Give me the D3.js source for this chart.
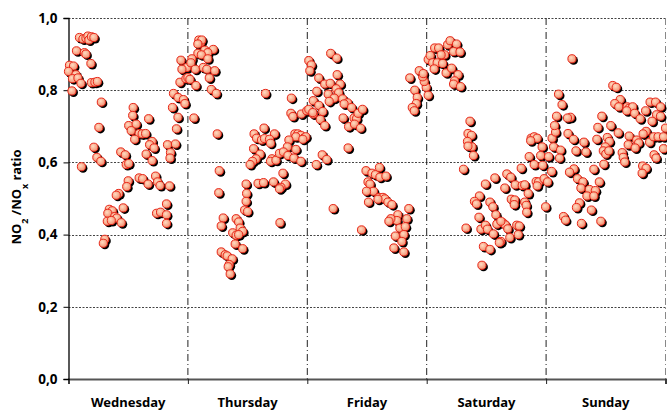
<!DOCTYPE html>
<html>
<head>
<meta charset="utf-8">
<script src="https://cdn.jsdelivr.net/npm/d3@7"></script>
<style>
  body { margin: 0; background: #fff; }
  svg text { font-family: "Noto Sans", sans-serif; font-weight: bold; fill: #000; }
</style>
</head>
<body>
<div id="chart"></div>
<script>
// day names under the x axis
var days = ['Wednesday', 'Thursday', 'Friday', 'Saturday', 'Sunday'];
var yTicks = [0, 0.2, 0.4, 0.6, 0.8, 1.0];

// [hour of the day, NO2/NOx ratio]
var wednesday = [
  [2.2,0.946],[2.9,0.942],[3.5,0.944],[3.9,0.950],[4.1,0.939],[4.6,0.948],[5.1,0.946],
  [1.6,0.909],[3.2,0.904],[3.5,0.900],[4.5,0.874],[0.2,0.869],[1.0,0.867],[0.0,0.852],[1.5,0.843],
  [0.8,0.832],[1.9,0.834],[2.5,0.819],[4.6,0.821],[5.3,0.822],[5.8,0.824],[0.7,0.798],
  [6.6,0.767],[13.0,0.752],[12.9,0.730],[16.1,0.721],[6.1,0.697],[12.1,0.702],[13.6,0.706],[12.6,0.688],
  [14.2,0.680],[14.8,0.679],[15.5,0.680],[13.3,0.664],[16.8,0.658],[16.3,0.649],[17.2,0.640],
  [5.1,0.642],[5.7,0.614],[6.5,0.603],[10.5,0.629],[11.4,0.621],[15.6,0.623],[11.6,0.594],[12.1,0.597],
  [16.8,0.605],[2.6,0.588],[14.2,0.557],[14.9,0.555],[16.0,0.540],[17.5,0.562],[17.9,0.546],[18.4,0.536],
  [12.0,0.549],[11.7,0.533],[10.1,0.514],[9.6,0.509],[11.0,0.474],[8.2,0.470],[8.8,0.466],[7.9,0.459],
  [9.3,0.450],[9.7,0.446],[7.8,0.437],[8.6,0.439],[10.6,0.433],[17.7,0.459],[18.5,0.462],[7.3,0.387],[7.0,0.376],
  [19.9,0.649],[21.5,0.651],[20.5,0.627],[20.4,0.612],[20.3,0.535],[19.7,0.485],[19.7,0.455],[19.7,0.431],
  [21.1,0.791],[22.0,0.780],[23.1,0.774],[23.4,0.763],[20.9,0.752],[22.0,0.725],[21.7,0.693],[22.6,0.883],
  [22.4,0.822],[23.8,0.863],[22.8,0.858],[23.6,0.832]
];

var thursday = [
  [2.2,0.939],[2.6,0.933],[2.8,0.939],[2.0,0.928],[3.4,0.911],[5.1,0.913],[4.0,0.904],[2.0,0.902],[2.7,0.898],
  [0.8,0.887],[0.6,0.876],[4.0,0.887],[1.5,0.858],[3.1,0.863],[3.8,0.858],[5.4,0.854],[4.3,0.834],[0.0,0.835],
  [0.4,0.830],[1.6,0.813],[4.7,0.802],[5.7,0.791],[1.2,0.723],[5.9,0.679],[6.3,0.577],[6.2,0.516],[7.1,0.446],
  [6.7,0.424],[9.7,0.444],[10.2,0.435],[10.5,0.418],[11.0,0.409],[9.0,0.405],[9.7,0.398],[10.2,0.400],[9.5,0.374],
  [11.0,0.361],[6.7,0.352],[7.5,0.344],[7.9,0.341],[8.9,0.333],[8.3,0.317],[8.1,0.311],[8.5,0.291],[11.7,0.540],
  [11.8,0.514],[11.4,0.468],[12.0,0.464],[11.7,0.492],[13.3,0.679],[13.8,0.667],[14.8,0.662],[15.3,0.695],
  [15.6,0.791],[13.2,0.638],[14.5,0.623],[13.7,0.610],[13.0,0.603],[12.5,0.594],[14.1,0.542],[15.2,0.544],[15.4,0.666],
  [20.8,0.778],[20.7,0.736],[21.1,0.727],[22.8,0.734],[23.9,0.743],[17.4,0.679],[16.4,0.664],[16.6,0.653],
  [21.5,0.679],[22.1,0.679],[22.7,0.675],[21.7,0.671],[23.3,0.667],[23.7,0.671],[23.1,0.664],[20.3,0.662],
  [20.0,0.643],[21.7,0.636],[16.9,0.610],[16.6,0.603],[17.7,0.606],[18.4,0.625],[19.2,0.629],[20.1,0.619],
  [21.3,0.612],[22.7,0.603],[19.1,0.570],[17.2,0.546],[19.6,0.540],[18.7,0.531],[18.4,0.527],[18.5,0.433]
];

var friday = [
  [0.3,0.747],[1.2,0.734],[1.8,0.594],[3.0,0.621],[3.9,0.608],[5.2,0.472],[8.2,0.640],[10.9,0.413],
  [4.7,0.902],[5.9,0.889],[0.3,0.882],[0.8,0.870],[0.5,0.854],[6.0,0.843],[2.3,0.834],[3.5,0.817],[4.6,0.819],
  [6.6,0.817],[5.8,0.804],[1.9,0.797],[4.2,0.789],[6.3,0.793],[5.4,0.778],[4.4,0.769],[7.1,0.776],[8.1,0.765],
  [7.4,0.762],[8.9,0.752],[1.2,0.771],[2.3,0.758],[3.1,0.741],[2.6,0.719],[3.5,0.702],[1.1,0.738],[7.2,0.723],
  [8.3,0.699],[9.4,0.723],[9.9,0.721],[10.2,0.736],[11.1,0.747],[9.5,0.706],[10.7,0.695],
  [11.8,0.577],[13.0,0.570],[13.7,0.566],[14.5,0.586],[14.6,0.559],[15.8,0.562],[12.2,0.546],[12.6,0.540],
  [13.3,0.520],[11.9,0.520],[12.3,0.490],[14.4,0.503],[15.2,0.503],[15.6,0.499],[14.2,0.498],[16.2,0.490],
  [17.0,0.483],[20.4,0.472],[18.2,0.455],[18.0,0.439],[16.8,0.444],[16.4,0.437],[20.0,0.444],[18.6,0.418],
  [19.7,0.422],[19.4,0.400],[17.7,0.396],[19.0,0.381],[17.4,0.363],[19.4,0.352],
  [20.6,0.834],[21.6,0.800],[22.1,0.780],[21.9,0.763],[21.1,0.752],[21.5,0.743],[23.9,0.808],[23.5,0.824],
  [23.2,0.837],[22.5,0.854],[23.3,0.846]
];

var saturday = [
  [0.3,0.786],[0.3,0.885],[0.7,0.896],[1.6,0.917],[2.4,0.917],[1.2,0.876],[2.1,0.876],[3.2,0.874],[1.5,0.859],
  [3.6,0.898],[3.9,0.848],[4.2,0.926],[4.7,0.937],[6.0,0.928],[5.4,0.907],[6.7,0.906],[5.0,0.861],[6.3,0.843],
  [5.6,0.826],[5.4,0.817],[6.8,0.810],[2.9,0.898],
  [8.7,0.714],[8.3,0.680],[9.0,0.675],[8.2,0.658],[9.1,0.643],[8.3,0.645],[9.4,0.619],[7.4,0.581],[7.9,0.418],
  [11.8,0.540],[13.7,0.557],[10.6,0.507],[9.6,0.492],[10.0,0.485],[10.5,0.448],[12.7,0.490],[13.3,0.477],
  [10.9,0.415],[11.8,0.426],[12.2,0.415],[11.4,0.367],[12.7,0.359],[11.1,0.315],[13.9,0.455],[14.1,0.429],
  [13.4,0.402],[14.9,0.381],[14.6,0.378],[15.3,0.433],[15.8,0.427],[16.3,0.416],[14.9,0.437],[16.7,0.392],
  [18.4,0.400],[18.1,0.426],[18.6,0.424],[15.7,0.529],[16.1,0.568],[16.9,0.559],[17.8,0.538],[19.2,0.536],
  [19.7,0.538],[20.4,0.514],[17.0,0.498],[17.7,0.496],[17.6,0.483],[19.7,0.490],[20.0,0.481],[20.1,0.462],
  [19.0,0.584],[20.6,0.616],[21.6,0.594],[22.0,0.547],[22.5,0.546],[22.2,0.535],[23.6,0.555],[23.9,0.477],
  [21.0,0.667],[21.6,0.671],[22.2,0.667],[20.9,0.660],[23.2,0.643],[22.9,0.619],[23.3,0.592]
];

var sunday = [
  [0.3,0.546],[0.5,0.616],[1.1,0.575],[1.2,0.667],[1.5,0.643],[1.9,0.684],[1.7,0.702],[2.1,0.728],[2.9,0.634],
  [2.7,0.612],[2.5,0.789],[3.2,0.760],[3.5,0.450],[3.9,0.440],
  [5.2,0.887],[13.4,0.813],[14.1,0.808],[14.9,0.774],[13.8,0.763],[14.6,0.754],[16.3,0.754],[16.7,0.750],
  [17.4,0.754],[16.2,0.743],[17.8,0.736],[18.9,0.721],[20.0,0.743],[20.9,0.767],[22.0,0.767],[23.0,0.754],
  [22.2,0.732],[23.0,0.728],[21.3,0.714],[24.0,0.695],[11.2,0.728],[13.0,0.702],[10.4,0.697],[14.5,0.682],
  [16.7,0.673],[16.5,0.649],[18.2,0.662],[18.6,0.654],[17.9,0.640],[20.1,0.686],[19.5,0.679],[20.8,0.656],
  [21.6,0.671],[22.5,0.671],[23.6,0.671],[23.6,0.638],[21.7,0.621],[22.1,0.612],[4.9,0.725],[4.3,0.723],
  [4.4,0.680],[5.5,0.664],[6.0,0.632],[7.6,0.656],[8.0,0.629],[10.2,0.664],[12.3,0.669],[12.7,0.658],
  [11.9,0.643],[11.5,0.632],[12.0,0.623],[12.6,0.632],[15.3,0.627],[15.5,0.614],[15.8,0.601],[11.6,0.595],
  [9.6,0.581],[5.6,0.582],[4.7,0.573],[6.3,0.555],[7.4,0.546],[10.7,0.546],[7.0,0.529],[8.7,0.525],
  [9.9,0.522],[8.2,0.507],[9.6,0.507],[6.7,0.488],[6.1,0.475],[9.1,0.468],[7.1,0.431],[11.0,0.437],
  [19.4,0.590],[20.1,0.584],[19.3,0.570]
];

var svgWidth = 667;
var svgHeight = 413;
var margin = { top: 18, right: 1.5, bottom: 34, left: 68.5 };
var width = svgWidth - margin.left - margin.right;
var height = svgHeight - margin.top - margin.bottom;

var svg = d3.select('#chart').append('svg')
  .attr('width', svgWidth)
  .attr('height', svgHeight);

// marker fill
var grad = svg.append('defs').append('radialGradient')
  .attr('id', 'ball').attr('cx', '40%').attr('cy', '38%').attr('r', '65%');
grad.append('stop').attr('offset', '0%').attr('stop-color', '#ffdcc2');
grad.append('stop').attr('offset', '100%').attr('stop-color', '#f48c6c');

var chartGroup = svg.append('g')
  .attr('transform', `translate(${margin.left}, ${margin.top})`);

var xScale = d3.scaleLinear().domain([0, 120]).range([0, width]);
var yScale = d3.scaleLinear().domain([0, 1]).range([height, 0]);

// horizontal grid
chartGroup.selectAll('.hgrid')
  .data(yTicks.filter(d => d > 0))
  .enter().append('line')
  .attr('x1', 0).attr('x2', width)
  .attr('y1', d => Math.round(yScale(d)) + 0.5)
  .attr('y2', d => Math.round(yScale(d)) + 0.5)
  .attr('stroke', '#444')
  .attr('stroke-width', 1)
  .attr('stroke-dasharray', '2,1.5');

// day separators
chartGroup.selectAll('.vgrid')
  .data([24, 48, 72, 96, 120])
  .enter().append('line')
  .attr('x1', d => xScale(d)).attr('x2', d => xScale(d))
  .attr('y1', 0).attr('y2', height)
  .attr('stroke', d => d === 120 ? '#888' : '#222')
  .attr('stroke-width', 1)
  .attr('stroke-dasharray', '7,3,1,3');

// x axis: ticks at day boundaries, names in the middle
var xAxis = chartGroup.append('g')
  .attr('transform', `translate(0, ${height})`)
  .call(d3.axisBottom(xScale).tickValues([0, 24, 48, 72, 96, 120]).tickSize(5).tickFormat(''));
xAxis.select('.domain').attr('stroke', '#555').attr('stroke-width', 2);
xAxis.selectAll('.tick line').attr('stroke', '#222');

chartGroup.selectAll('.dayLabel')
  .data(days)
  .enter().append('text')
  .attr('x', (d, i) => xScale(i * 24 + 12))
  .attr('y', height + 28)
  .attr('text-anchor', 'middle')
  .attr('font-size', '13px')
  .text(d => d);

// y axis
var yAxis = chartGroup.append('g')
  .call(d3.axisLeft(yScale).tickValues(yTicks).tickSize(5).tickPadding(6)
    .tickFormat(d => d3.format('.1f')(d).replace('.', ',')));
yAxis.select('.domain').attr('stroke', '#000').attr('stroke-width', 1.3);
yAxis.selectAll('.tick text')
  .attr('font-size', '13.5px')
  .attr('font-family', '"Noto Sans", sans-serif')
  .attr('font-weight', 'bold')
  .attr('fill', '#000');

// points
var allPoints = [];
[wednesday, thursday, friday, saturday, sunday].forEach(function(day, i) {
  day.forEach(function(p) { allPoints.push({ t: i * 24 + p[0], v: p[1] }); });
});

chartGroup.selectAll('.shadow')
  .data(allPoints)
  .enter().append('circle')
  .attr('cx', d => xScale(d.t) + 1.6)
  .attr('cy', d => yScale(d.v) + 1.6)
  .attr('r', 4.4)
  .attr('fill', '#000');

chartGroup.selectAll('.pt')
  .data(allPoints)
  .enter().append('circle')
  .attr('cx', d => xScale(d.t))
  .attr('cy', d => yScale(d.v))
  .attr('r', 4.1)
  .attr('fill', 'url(#ball)')
  .attr('stroke', '#e8281a')
  .attr('stroke-width', 1);

// y title with subscripts
var yTitle = svg.append('text')
  .attr('transform', 'translate(21, 197) rotate(-90)')
  .attr('text-anchor', 'middle')
  .attr('font-size', '13px');
yTitle.append('tspan').text('NO');
yTitle.append('tspan').attr('baseline-shift', 'sub').attr('font-size', '9px').text('2');
yTitle.append('tspan').text(' /NO');
yTitle.append('tspan').attr('baseline-shift', 'sub').attr('font-size', '9px').text('x');
yTitle.append('tspan').text(' ratio');
</script>
</body>
</html>
